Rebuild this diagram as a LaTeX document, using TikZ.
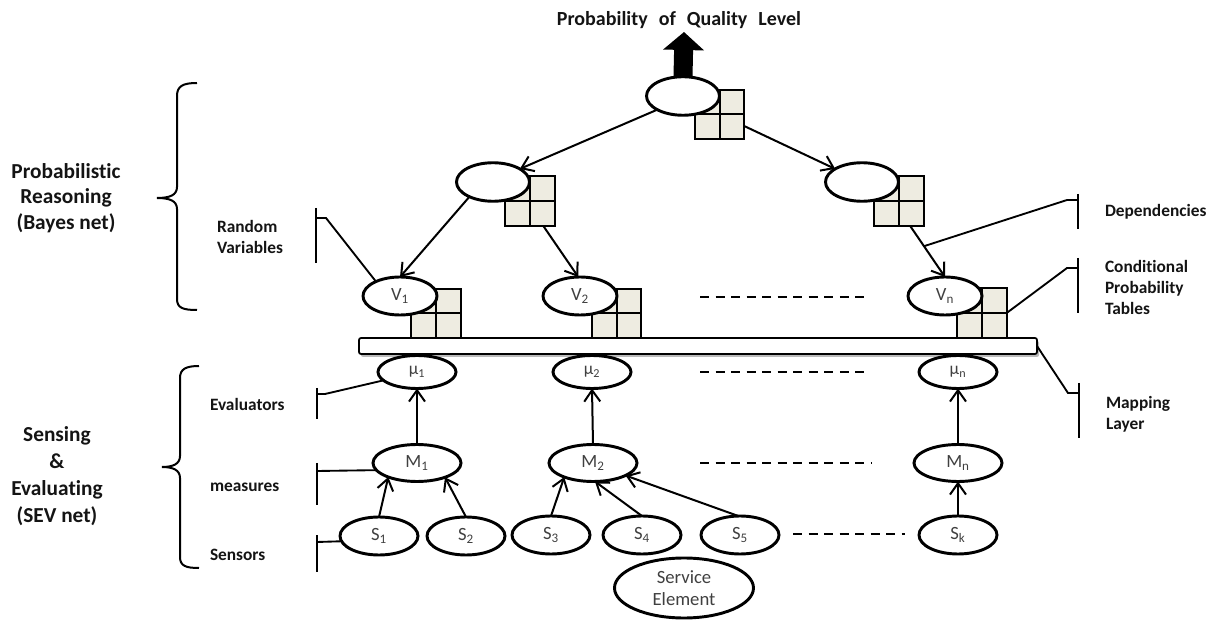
\documentclass[tikz,border=0pt]{standalone}
\usepackage{fontspec}
\setmainfont[Ligatures={NoCommon}]{Carlito}
\usetikzlibrary{arrows.meta,shapes.geometric,shadows}
\definecolor{cptbeige}{RGB}{238,236,225}
\definecolor{nodetext}{RGB}{64,64,64}
\definecolor{labeltext}{RGB}{20,20,20}
\begin{document}
\begin{tikzpicture}[x=0.75pt,y=-0.75pt,
  every node/.style={inner sep=0pt, outer sep=0pt},
  var/.style={ellipse, draw, line width=2.2pt, fill=white, text=nodetext,
    font=\fontsize{14}{16}\selectfont},
  bayesvar/.style={var, minimum width=54.75pt, minimum height=28.9pt},
  rvar/.style={var, minimum width=55.5pt, minimum height=28.5pt},
  evalvar/.style={var, minimum width=58.5pt, minimum height=24.75pt,
    font=\fontsize{13}{15}\selectfont},
  measvar/.style={var, minimum width=66pt, minimum height=27.75pt},
  sensvar/.style={var, minimum width=58.5pt, minimum height=28.5pt},
  cpt/.style={draw, line width=1.5pt, fill=cptbeige, minimum size=37pt,
    path picture={\draw[line width=1.5pt]
      (path picture bounding box.north) -- (path picture bounding box.south)
      (path picture bounding box.west) -- (path picture bounding box.east);}},
  conn/.style={line width=1.5pt, -{Straight Barb[length=8.5pt,width=12pt]}},
  leader/.style={line width=1.4pt},
  marker/.style={line width=1.6pt},
  brace/.style={line width=1.5pt},
  etc/.style={line width=1.5pt, dash pattern=on 6.75pt off 4.9pt},
  biglabel/.style={text=labeltext, align=center,
    font=\fontsize{16}{19}\selectfont\bfseries},
  smalllabel/.style={text=labeltext, align=left,
    font=\fontsize{13}{15.75}\selectfont\bfseries},
]
\useasboundingbox (0,0) rectangle (1222,620);

% ---------- Bayes net: probability tables (drawn beneath the variables)
\node[cpt] (Tg)  at (719.5,114.5) {};
\node[cpt] (Lg)  at (530,201) {};
\node[cpt] (Rg)  at (899,201) {};
\node[cpt] (V1g) at (436,313.5) {};
\node[cpt] (V2g) at (616.5,313.5) {};
\node[cpt] (Vng) at (982,313) {};

% ---------- Bayes net: variables
\node[bayesvar] (T) at (683,96) {};
\node[bayesvar] (L) at (493,182) {};
\node[bayesvar] (R) at (862,182) {};
\node[rvar] (V1) at (400,296) {V\textsubscript{1}};
\node[rvar] (V2) at (580,296) {V\textsubscript{2}};
\node[rvar] (Vn) at (945,296) {V\textsubscript{n}};

% output of the network
\coordinate (qlTip) at (684,32);
\draw[line width=14.25pt, -{Triangle[length=13.5pt,width=30pt]}] (T.north) -- (qlTip);
\node[text=labeltext, font=\fontsize{15}{18}\selectfont\bfseries, anchor=base]
  (title) at (679,26) {Probability\hspace{.55em}of\hspace{.55em}Quality\hspace{.55em}Level};

% dependencies
\draw[conn] (T.208) -- (L.26);
\draw[conn] (Tg.-25) -- (R.154);
\draw[conn] (L.212) -- (V1.north);
\draw[conn] (Lg.-62) -- (V2.95);
\draw[conn] (Rg.-66) -- coordinate[pos=0.4] (dep) (Vn.north);

% ---------- mapping layer
\node[draw, line width=1.3pt, fill=white, rounded corners=1.5pt,
  minimum width=508.5pt, minimum height=12pt,
  drop shadow={shadow xshift=1.5pt, shadow yshift=-2.2pt, fill=black!45, opacity=.6}]
  (bar) at (698,346) {};

% ---------- SEV net
\node[evalvar] (mu1) at (417,372) {µ\textsubscript{1}};
\node[evalvar] (mu2) at (592,372) {µ\textsubscript{2}};
\node[evalvar] (mun) at (958,372) {µ\textsubscript{n}};

\node[measvar] (M1) at (417,463) {M\textsubscript{1}};
\node[measvar] (M2) at (593,463) {M\textsubscript{2}};
\node[measvar] (Mn) at (958,463) {M\textsubscript{n}};

\node[sensvar] (S1) at (379,536) {S\textsubscript{1}};
\node[sensvar] (S2) at (466,536) {S\textsubscript{2}};
\node[sensvar] (S3) at (551,535) {S\textsubscript{3}};
\node[sensvar] (S4) at (642,535) {S\textsubscript{4}};
\node[sensvar] (S5) at (740,535) {S\textsubscript{5}};
\node[sensvar] (Sk) at (958,535) {S\textsubscript{k}};

\node[var, align=center, minimum width=104.25pt, minimum height=45pt,
  font=\fontsize{14}{16.5}\selectfont] (SE) at (684,588) {Service\\Element};

\draw[conn] (M1.north) -- (mu1.south);
\draw[conn] (M2.north) -- (mu2.south);
\draw[conn] (Mn.north) -- (mun.south);
\draw[conn] (S1.north) -- (M1.206);
\draw[conn] (S2.north) -- (M1.-27);
\draw[conn] (S3.north) -- (M2.206);
\draw[conn] (S4.north) -- (M2.-84);
\draw[conn] (S5.95) -- (M2.-21);
\draw[conn] (Sk.north) -- (Mn.south);

% continuation dashes
\draw[etc] (700,297) -- (870,297);
\draw[etc] (700,372) -- (870,372);
\draw[etc] (700,463) -- (872,463);
\draw[etc] (793,534) -- (905,534);

% ---------- group braces
\draw[brace] (197,83) .. controls (183,83) and (177,86) .. (177,96) -- (177,187)
  .. controls (177,195) and (170,198) .. (157,198)
  .. controls (170,198) and (177,201) .. (177,209) -- (177,299)
  .. controls (177,308) and (183,310) .. (197,310);
\draw[brace] (199,366) .. controls (186,366) and (180,369) .. (180,378) -- (180,456)
  .. controls (180,464) and (173,467) .. (162,467)
  .. controls (173,467) and (180,470) .. (180,478) -- (180,557)
  .. controls (180,566) and (186,568) .. (199,568);

\node[biglabel] (bayesLbl) at (66,198) {Probabilistic\\Reasoning\\(Bayes net)};
\node[biglabel, font=\fontsize{16}{20.3}\selectfont\bfseries]
  (sevLbl) at (57,476) {Sensing\\\&\\Evaluating\\(SEV net)};

% ---------- layer labels with their markers
\node[smalllabel, anchor=west] (rvLbl) at (217,237) {Random\\Variables};
\draw[marker] (316,208) -- (316,263);
\coordinate (rvTick) at (326,218);
\draw[leader] (316,218) -- (rvTick) -- (V1.149);

\node[smalllabel, anchor=base west] (depLbl) at (1105,217) {Dependencies};
\draw[marker] (1078,194) -- (1078,229);
\coordinate (depTick) at (1067,200);
\draw[leader] (1078,200) -- (depTick) -- (dep);

\node[smalllabel, anchor=west] (cptLbl) at (1105,287) {Conditional\\Probability\\Tables};
\draw[marker] (1078,258) -- (1078,313);
\coordinate (cptTick) at (1067,268);
\draw[leader] (1078,268) -- (cptTick) -- (Vng.east);

\node[smalllabel, anchor=west] (mapLbl) at (1106,414) {Mapping\\Layer};
\draw[marker] (1079,383) -- (1079,438);
\coordinate (mapTick) at (1068,393);
\draw[leader] (1079,393) -- (mapTick) -- (bar.east);

\node[smalllabel, anchor=base west] (evLbl) at (210,411) {Evaluators};
\draw[marker] (317,388) -- (317,419);
\coordinate (evTick) at (325,394);
\draw[leader] (317,394) -- (evTick) -- (mu1.194);

\node[smalllabel, anchor=base west] (msLbl) at (210,491) {measures};
\draw[marker] (317,463) -- (317,505);
\coordinate (msTick) at (317,471);
\draw[leader] (msTick) -- (M1.190);

\node[smalllabel, anchor=base west] (snLbl) at (210,560) {Sensors};
\draw[marker] (317,535) -- (317,572);
\coordinate (snTick) at (317,542);
\draw[leader] (snTick) -- (S1.188);
\end{tikzpicture}
\end{document}
